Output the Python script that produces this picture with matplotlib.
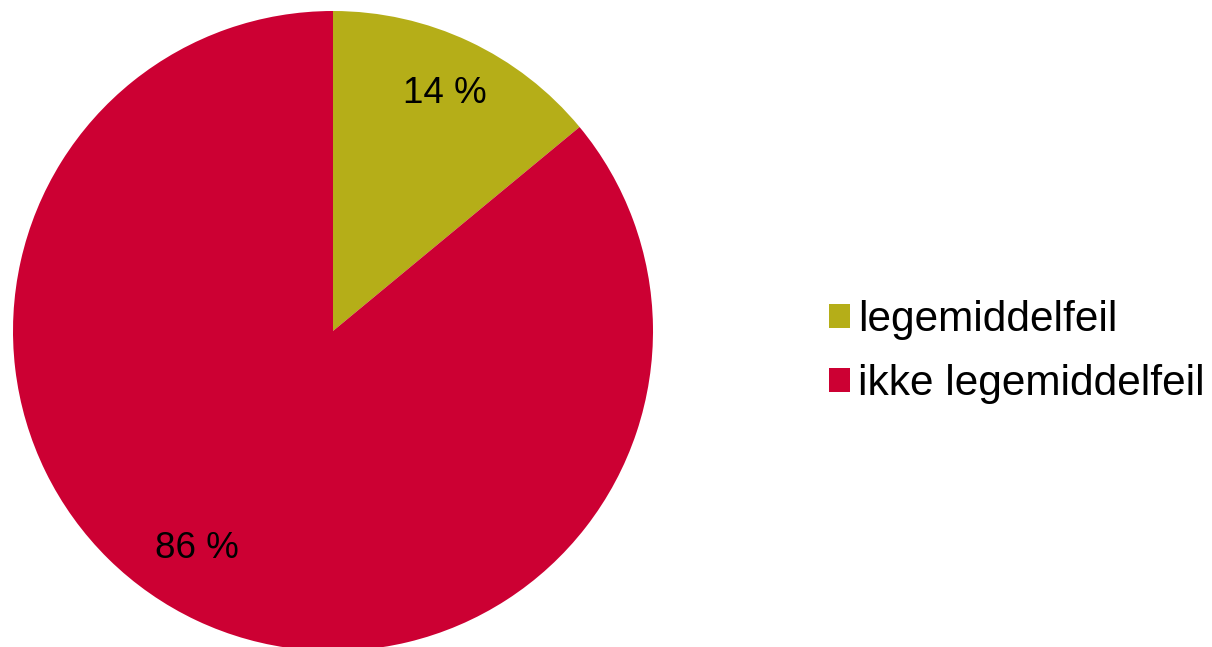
import numpy as np
import matplotlib
matplotlib.use("Agg")
import matplotlib.pyplot as plt

# Andel legemiddelfeil
categories = ["legemiddelfeil", "ikke legemiddelfeil"]
shares = [14, 86]
colors = ["#B5AE18", "#CC0033"]

plt.rcParams['font.family'] = ['Liberation Sans', 'DejaVu Sans']

W, H = 1212, 647
fig = plt.figure(figsize=(W / 100, H / 100), dpi=100)

# pie placed with its centre at (333, 331) px and radius 320 px
cx, cy, r = 333, 331, 320
ax = fig.add_axes([(cx - r) / W, (H - cy - r) / H, 2 * r / W, 2 * r / H])
wedges, texts, autotexts = ax.pie(shares, colors=colors, startangle=90, counterclock=False,
                                  radius=1.0, autopct=lambda p: "%d %%" % round(p),
                                  pctdistance=0.82,
                                  textprops={'fontsize': 26.5, 'color': 'black'},
                                  wedgeprops={'linewidth': 0})
# the big slice's label sits a bit further round than the mid angle
a = np.deg2rad(-122)
autotexts[1].set_position((0.8 * np.cos(a), 0.8 * np.sin(a)))

ax.set_xlim(-1, 1)
ax.set_ylim(-1, 1)
ax.set_aspect('equal')
ax.axis('off')

fig.legend(wedges, categories, loc='center left', bbox_to_anchor=(829 / W, 1 - 352 / H),
           frameon=False, fontsize=30.5, borderpad=0, borderaxespad=0,
           handlelength=0.5, handleheight=0.5, handletextpad=0.19, labelspacing=0.55)

fig.savefig("out.png", dpi=100)
